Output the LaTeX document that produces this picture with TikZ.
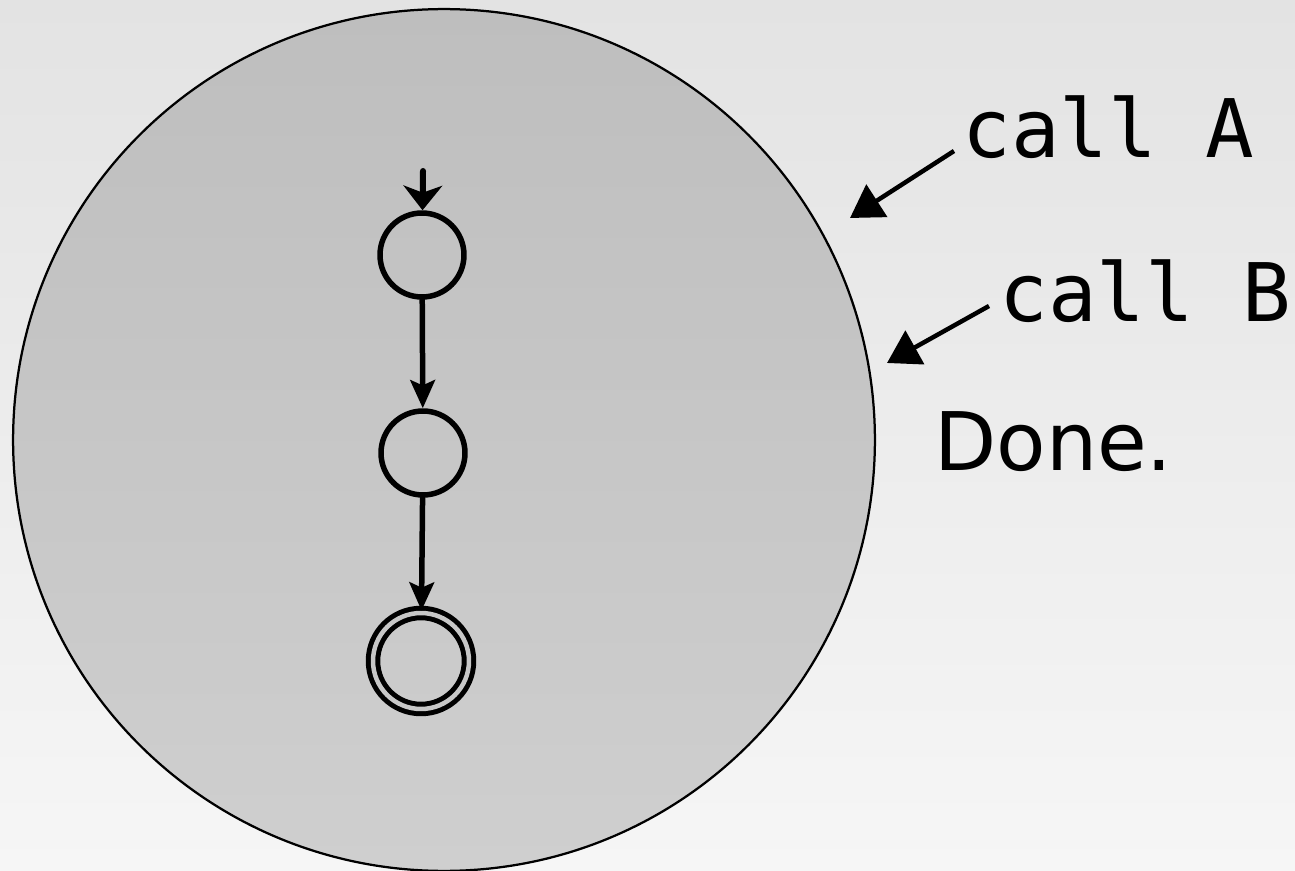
\documentclass[tikz,border=0pt]{standalone}
\usepackage{fontspec}
\setmainfont{DejaVu Sans}
\setmonofont{DejaVu Sans Mono}
\usetikzlibrary{arrows.meta}
\definecolor{bgtop}{RGB}{227,227,227}
\definecolor{bgbot}{RGB}{246,246,246}
\definecolor{disctop}{RGB}{190,190,190}
\definecolor{discbot}{RGB}{207,207,207}
\begin{document}
\begin{tikzpicture}[x=0.02cm,y=-0.02cm,line join=round,line cap=round,
		state/.style={circle,draw,line width=0.11cm,minimum size=1.68cm,inner sep=0pt},
		final/.style={state,line width=0.1cm,double=discbot!96!black,double distance=0.09cm,minimum size=1.92cm},
		trans/.style={line width=0.11cm,-{Stealth[length=16pt,width=14pt,inset=3pt]}},
		entrytrans/.style={line width=0.12cm,-{Stealth[length=14pt,width=22pt,inset=4pt]}},
		callout/.style={line width=0.09cm,line cap=butt,-{Triangle[length=0.64cm,width=0.76cm]}},
		lbl/.style={inner sep=0pt,anchor=base west,font=\fontsize{46}{55}\selectfont}]
	\shade[top color=bgtop,bottom color=bgbot] (0,0) rectangle (1295,871);
	\useasboundingbox (0,0) rectangle (1295,871);
	\draw[line width=0.045cm,top color=disctop,bottom color=discbot] (444,440) circle[radius=8.62cm];
	% automaton
	\node[state] (s1) at (422,255) {};
	\node[state] (s2) at (423,453) {};
	\node[final] (s3) at (421,661) {};
	\coordinate (start) at (423,171);
	\draw[entrytrans] (start)--(s1);
	\draw[trans] (s1)--(s2);
	\draw[trans] (s2)--(s3);
	% calls
	\node[lbl] (callA) at (962,158) {\ttfamily call A};
	\node[lbl] (callB) at (999,322) {\ttfamily call B};
	\node[lbl] (done) at (934,471) {Done.};
	\path (850,218) coordinate (hitA)
		(887,363) coordinate (hitB);
	\draw[callout] ([shift={(-8,-7)}]callA.base west)--(hitA);
	\draw[callout] ([shift={(-10,-16)}]callB.base west)--(hitB);
\end{tikzpicture}
\end{document}
